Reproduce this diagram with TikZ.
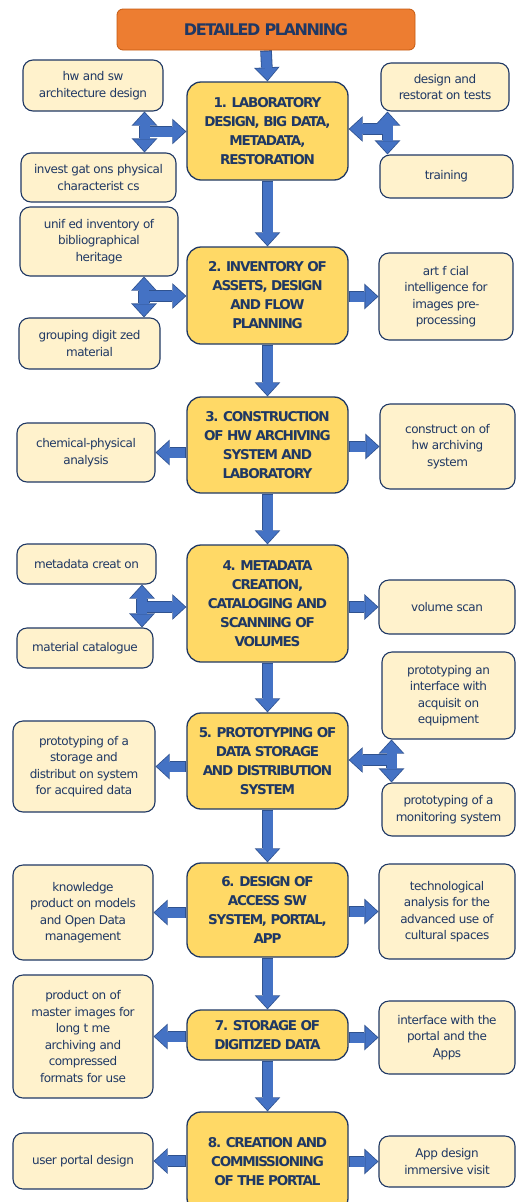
\documentclass[tikz,border=0pt]{standalone}
\usepackage{fontspec}
\setmainfont{DejaVu Sans}
\newfontfamily\stagefamily{DejaVu Sans}[LetterSpace=-9]
\newfontfamily\taskfamily{DejaVu Sans}[LetterSpace=-4]
\usetikzlibrary{arrows.meta,backgrounds}

\definecolor{navy}{HTML}{1F3864}
\definecolor{stagefill}{HTML}{FFD966}
\definecolor{taskfill}{HTML}{FFF2CC}
\definecolor{titlefill}{HTML}{ED7D31}
\definecolor{titleline}{HTML}{C55A11}
\definecolor{arrowblue}{HTML}{4472C4}
\definecolor{arrowrimblue}{HTML}{2F528F}

% block arrow: dark rim behind, blue body on top
\newcommand{\blockarrow}[2][->]{%
  \begin{scope}[on background layer]
    \draw[arrowrim,#1] #2;
  \end{scope}
  \draw[arrowbody,#1] #2;}

\begin{document}
\begin{tikzpicture}[x=1pt,y=-1pt,
  stage/.style={draw=navy,line width=1.3pt,fill=stagefill,rounded corners=14pt,
    minimum width=161pt,align=center,text=navy,inner sep=0pt,
    font=\stagefamily\bfseries\fontsize{13.5}{19}\selectfont},
  task/.style={draw=navy,line width=1.1pt,fill=taskfill,rounded corners=10pt,
    align=center,text=navy,inner sep=0pt,
    font=\taskfamily\fontsize{12}{16.5}\selectfont},
  arrowbody/.style={draw=arrowblue,line width=10pt,shorten >=1.2pt,shorten <=1.2pt,
    >={Triangle[width=22pt,length=12pt,line width=0pt]}},
  arrowrim/.style={draw=arrowrimblue,line width=11.6pt,
    >={Triangle[width=25.6pt,length=14pt,line width=0pt]}}]

\useasboundingbox (0,0) rectangle (516,1202);

	\node[fill=titlefill,draw=titleline,line width=0.8pt,rounded corners=6pt,
	  minimum width=298pt,minimum height=41pt,text=navy,
	  font=\stagefamily\bfseries\fontsize{16}{19}\selectfont] (title) at (266,29.5) {DETAILED PLANNING};

	% stages
	\node[stage,minimum height=98pt] (s1) at (267.5,131) {1. LABORATORY\\DESIGN, BIG DATA,\\METADATA,\\RESTORATION};
	\node[stage,minimum height=97pt] (s2) at (267.5,295.5) {2. INVENTORY OF\\ASSETS, DESIGN\\AND FLOW\\PLANNING};
	\node[stage,minimum height=96pt] (s3) at (267.5,445) {3. CONSTRUCTION\\OF HW ARCHIVING\\SYSTEM AND\\LABORATORY};
	\node[stage,minimum height=117pt] (s4) at (267.5,603.5) {4. METADATA\\CREATION,\\CATALOGING AND\\SCANNING OF\\VOLUMES};
	\node[stage,minimum height=96pt] (s5) at (267.5,761) {5. PROTOTYPING OF\\DATA STORAGE\\AND DISTRIBUTION\\SYSTEM};
	\node[stage,minimum height=94pt] (s6) at (267.5,910) {6. DESIGN OF\\ACCESS SW\\SYSTEM, PORTAL,\\APP};
	\node[stage,minimum height=50pt] (s7) at (267.5,1035) {7. STORAGE OF\\DIGITIZED DATA};
	\node[stage,minimum height=100pt] (s8) at (267.5,1162) {8. CREATION AND\\COMMISSIONING\\OF THE PORTAL};

	% left tasks
	\node[task,minimum width=140pt,minimum height=51pt] (hw) at (93,85.5) {hw and sw\\architecture design};
	\node[task,minimum width=155pt,minimum height=49pt] (inv) at (98.5,177.5) {invest gat ons physical\\characterist cs};
	\node[task,minimum width=158pt,minimum height=69pt] (unif) at (99,241.5) {unif ed inventory of\\bibliographical\\heritage};
	\node[task,minimum width=141pt,minimum height=51pt] (grp) at (89.5,343.5) {grouping digit zed\\material};
	\node[task,minimum width=138pt,minimum height=59pt] (chem) at (86,452.5) {chemical-physical\\analysis};
	\node[task,minimum width=139pt,minimum height=40pt] (meta) at (86.5,564) {metadata creat on};
	\node[task,minimum width=136pt,minimum height=40pt] (cat) at (85,648) {material catalogue};
	\node[task,minimum width=142pt,minimum height=91pt] (stor) at (84,766.5) {prototyping of a\\storage and\\distribut on system\\for acquired data};
	\node[task,minimum width=140pt,minimum height=95pt] (know) at (83,912.5) {knowledge\\product on models\\and Open Data\\management};
	\node[task,minimum width=140pt,minimum height=123pt] (prod) at (83,1036.5) {product on of\\master images for\\long t me\\archiving and\\compressed\\formats for use};
	\node[task,minimum width=140pt,minimum height=56pt] (user) at (83,1161) {user portal design};

	% right tasks
	\node[task,minimum width=128pt,minimum height=48pt] (dres) at (445,87) {design and\\restorat on tests};
	\node[task,minimum width=133pt,minimum height=43pt] (train) at (446.5,176.5) {training};
	\node[task,minimum width=134pt,minimum height=87pt] (ai) at (446,296.5) {art f cial\\intelligence for\\images pre-\\processing};
	\node[task,minimum width=135pt,minimum height=85pt] (cons) at (447.5,446.5) {construct on of\\hw archiving\\system};
	\node[task,minimum width=136pt,minimum height=54pt] (vol) at (447,607) {volume scan};
	\node[task,minimum width=133pt,minimum height=87pt] (acq) at (448.5,695.5) {prototyping an\\interface with\\acquisit on\\equipment};
	\node[task,minimum width=133pt,minimum height=53pt] (mon) at (448.5,809.5) {prototyping of a\\monitoring system};
	\node[task,minimum width=136pt,minimum height=95pt] (tech) at (447,911.5) {technological\\analysis for the\\advanced use of\\cultural spaces};
	\node[task,minimum width=136pt,minimum height=73pt] (intf) at (447,1037.5) {interface with the\\portal and the\\Apps};
	\node[task,minimum width=136pt,minimum height=51pt] (app) at (447,1161.5) {App design\\immersive visit};

	% junctions of the three-headed arrows
	\coordinate (j1) at (144.5,131.5);
	\coordinate (k1) at (387.5,129);
	\coordinate (j2) at (144,296);
	\coordinate (j4) at (142,607);
	\coordinate (k5) at (391.5,760);

	% main flow
	\blockarrow{(title.south) -- (s1.north)}
	\blockarrow{(s1.south) -- (s2.north)}
	\blockarrow{(s2.south) -- (s3.north)}
	\blockarrow{(s3.south) -- (s4.north)}
	\blockarrow{(s4.south) -- (s5.north)}
	\blockarrow{(s5.south) -- (s6.north)}
	\blockarrow{(s6.south) -- (s7.north)}
	\blockarrow{(s7.south) -- (s8.north)}

	% side arrows
	\blockarrow[<->]{(hw.south -| j1) -- (inv.north -| j1)}
	\blockarrow{(j1) -- (s1.west |- j1)}
	\blockarrow[<->]{(dres.south -| k1) -- (train.north -| k1)}
	\blockarrow{(k1) -- (s1.east |- k1)}
	\blockarrow[<->]{(unif.south -| j2) -- (grp.north -| j2)}
	\blockarrow{(j2) -- (s2.west |- j2)}
	\blockarrow{(s2.east |- ai.west) -- (ai.west)}
	\blockarrow{(s3.west |- chem.east) -- (chem.east)}
	\blockarrow{(s3.east |- cons.west) -- (cons.west)}
	\blockarrow[<->]{(meta.south -| j4) -- (cat.north -| j4)}
	\blockarrow{(j4) -- (s4.west |- j4)}
	\blockarrow{(s4.east |- vol.west) -- (vol.west)}
	\blockarrow{(s5.west |- stor.east) -- (stor.east)}
	\blockarrow[<->]{(acq.south -| k5) -- (mon.north -| k5)}
	\blockarrow{(k5) -- (s5.east |- k5)}
	\blockarrow{(s6.west |- know.east) -- (know.east)}
	\blockarrow{(s6.east |- tech.west) -- (tech.west)}
	\blockarrow{(s7.west |- prod.east) -- (prod.east)}
	\blockarrow{(s7.east |- intf.west) -- (intf.west)}
	\blockarrow{(s8.west |- user.east) -- (user.east)}
	\blockarrow{(s8.east |- app.west) -- (app.west)}

\end{tikzpicture}
\end{document}
